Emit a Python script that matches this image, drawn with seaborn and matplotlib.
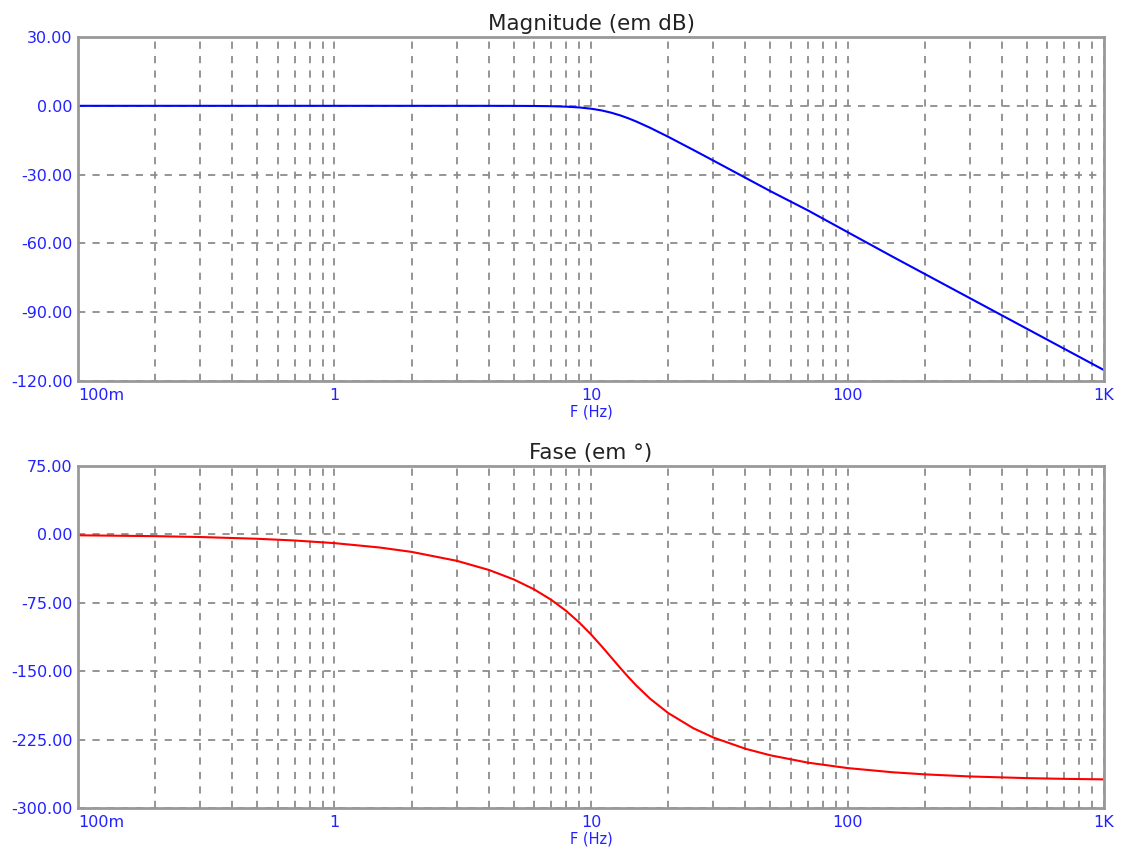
import numpy as np
import pandas as pd
import matplotlib
matplotlib.use("Agg")
import matplotlib.pyplot as plt
import seaborn as sns
from matplotlib.ticker import FixedLocator, FixedFormatter, LogLocator, NullFormatter, FormatStrFormatter

# Frequencies (Hz)
freq = [0.1, 0.2, 0.3, 0.5, 0.7, 1, 1.5, 2, 3, 4, 5, 6, 7, 8, 9, 10, 11, 12, 13, 14,
        15, 17, 20, 25, 30, 40, 50, 70, 100, 150, 200, 300, 500, 700, 1000]
# Magnitude (dB)
magnitude_db = [0.0, 0.0, 0.0, 0.0, 0.0, 0.0, 0.0, 0.0, 0.0, -0.005, -0.023, -0.067, -0.168,
                -0.366, -0.711, -1.254, -2.011, -3.01, -4.177, -5.468, -6.826, -9.582,
                -13.508, -19.18, -23.89, -31.38, -37.19, -45.57, -55.06, -65.81, -73.31,
                -83.88, -97.19, -105.96, -115.25]
# Phase (degrees)
phase_deg = [-0.95, -1.91, -2.87, -4.78, -6.69, -9.56, -14.36, -19.19, -28.97, -38.99,
             -49.38, -60.26, -71.74, -83.88, -96.61, -109.67, -122.63, -135.0, -146.39,
             -156.6, -165.57, -180.18, -195.89, -212.41, -222.74, -235.05, -242.21,
             -250.25, -256.22, -260.83, -263.12, -265.42, -267.25, -268.04, -268.62]

x_tick_values = [0.1, 1, 10, 100, 1000]
x_tick_labels = ["100m", "1", "10", "100", "1K"]
mag_yticks = [-120, -90, -60, -30, 0, 30]
phase_yticks = [-300, -225, -150, -75, 0, 75]

titles = ["Magnitude (em dB)", "Fase (em °)"]
x_label = "F (Hz)"

df = pd.DataFrame({"F": freq, "mag": magnitude_db, "phase": phase_deg})

sns.set_style("white")
plt.rcParams["font.family"] = ["DejaVu Sans"]

fig = plt.figure(figsize=(11.22, 8.49), dpi=100)
ax1 = fig.add_axes([0.0695, 0.5512, 0.9145, 0.4052])
ax2 = fig.add_axes([0.0695, 0.0483, 0.9145, 0.4028])

tick_blue = "#2222ff"
grid_col = "#8c8c8c"

def style(ax, yticks, title):
    ax.set_xscale("log")
    ax.set_xlim(0.1, 1000)
    ax.set_ylim(yticks[0], yticks[-1])
    ax.set_yticks(yticks)
    ax.yaxis.set_major_formatter(FormatStrFormatter("%.2f"))
    ax.xaxis.set_major_locator(FixedLocator(x_tick_values))
    ax.xaxis.set_major_formatter(FixedFormatter(x_tick_labels))
    ax.xaxis.set_minor_locator(LogLocator(base=10, subs=np.arange(2, 10)))
    ax.xaxis.set_minor_formatter(NullFormatter())
    ax.grid(True, which="both", axis="x", color=grid_col, linestyle=(0, (4, 4)), linewidth=1.3)
    ax.grid(True, which="major", axis="y", color=grid_col, linestyle=(0, (4, 4)), linewidth=1.3)
    ax.tick_params(axis="both", which="both", length=0, colors=tick_blue, labelsize=11.5)
    ax.tick_params(axis="x", pad=5)
    ax.tick_params(axis="y", pad=4)
    labels = ax.get_xticklabels()
    labels[0].set_horizontalalignment("left")
    for s in ax.spines.values():
        s.set_color("#999999")
        s.set_linewidth(2)
        s.set_visible(True)
    ax.set_xlabel(x_label, color=tick_blue, fontsize=10.5, labelpad=1)
    ax.set_ylabel("")
    ax.set_title(title, fontsize=15.5, color="#222222", pad=5)
    ax.set_axisbelow(True)

sns.lineplot(data=df, x="F", y="mag", ax=ax1, color="#0000ff", linewidth=1.5)
sns.lineplot(data=df, x="F", y="phase", ax=ax2, color="#ff0000", linewidth=1.5)
style(ax1, mag_yticks, titles[0])
style(ax2, phase_yticks, titles[1])

fig.savefig("out.png", dpi=100)
